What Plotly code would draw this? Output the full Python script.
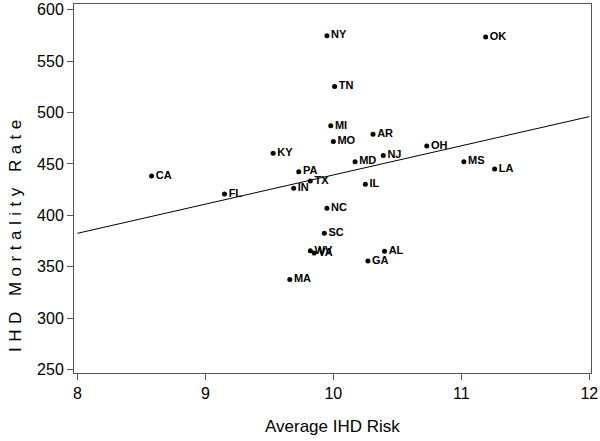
import plotly.graph_objects as go

states = ["NY", "OK", "TN", "MI", "MO", "AR", "OH", "NJ", "MD", "MS", "LA", "IL",
          "TX", "PA", "IN", "KY", "CA", "FL", "NC", "SC", "WV", "VA", "AL", "GA", "MA"]
avg_risk = [9.95, 11.19, 10.01, 9.98, 10.00, 10.31, 10.73, 10.39, 10.17, 11.02, 11.26, 10.25,
            9.82, 9.73, 9.69, 9.53, 8.58, 9.15, 9.95, 9.93, 9.82, 9.85, 10.40, 10.27, 9.66]
mortality = [574.7, 573.4, 525.3, 487.0, 471.7, 478.9, 467.5, 458.1, 452.2, 452.2, 445.1, 430.2,
             433.4, 442.5, 426.3, 460.4, 438.3, 420.8, 406.8, 382.5, 365.5, 363.3, 365.2, 355.5, 337.7]

fit_x = [8, 12]
fit_y = [382.5, 496.0]

x_ticks = [8, 9, 10, 11, 12]
y_ticks = [250, 300, 350, 400, 450, 500, 550, 600]

x_title = "Average IHD Risk"
y_title = "IHD Mortality Rate"

font_family = "Liberation Sans, Arial, sans-serif"

fig = go.Figure()
fig.add_trace(go.Scatter(
    x=fit_x, y=fit_y, mode="lines",
    line=dict(color="black", width=1),
    hoverinfo="skip", showlegend=False,
))
fig.add_trace(go.Scatter(
    x=avg_risk, y=mortality, mode="markers+text",
    text=states, textposition="middle right",
    textfont=dict(family=font_family, size=11, color="black", weight="bold"),
    marker=dict(color="black", size=5),
    showlegend=False,
))

axis_common = dict(
    showline=True, linecolor="#555555", linewidth=1, mirror=True,
    showgrid=False, zeroline=False, automargin=False,
    ticks="outside", ticklen=6, tickcolor="#555555",
    tickfont=dict(family=font_family, size=16, color="black"),
)

fig.update_xaxes(range=[7.974, 12.013], tickvals=x_ticks, **axis_common)
fig.update_yaxes(range=[246.7, 605.5], tickvals=y_ticks, **axis_common)

fig.add_annotation(
    text=x_title,
    xref="paper", yref="paper", x=0.5, y=-0.1463,
    xanchor="center", yanchor="middle", showarrow=False,
    font=dict(family=font_family, size=17, color="black"),
)
fig.add_annotation(
    text=f'<span style="letter-spacing:5.5px">{y_title}</span>',
    xref="paper", yref="paper", x=-0.114, y=0.3794,
    xanchor="center", yanchor="middle", textangle=-90, showarrow=False,
    font=dict(family=font_family, size=17, color="black"),
)

fig.update_layout(
    width=600, height=441,
    margin=dict(l=74, r=9, t=4, b=68, autoexpand=False),
    plot_bgcolor="white", paper_bgcolor="white",
)

fig.write_html("out.html", config={"displayModeBar": False},
               post_script="document.body.style.margin='0px';")
